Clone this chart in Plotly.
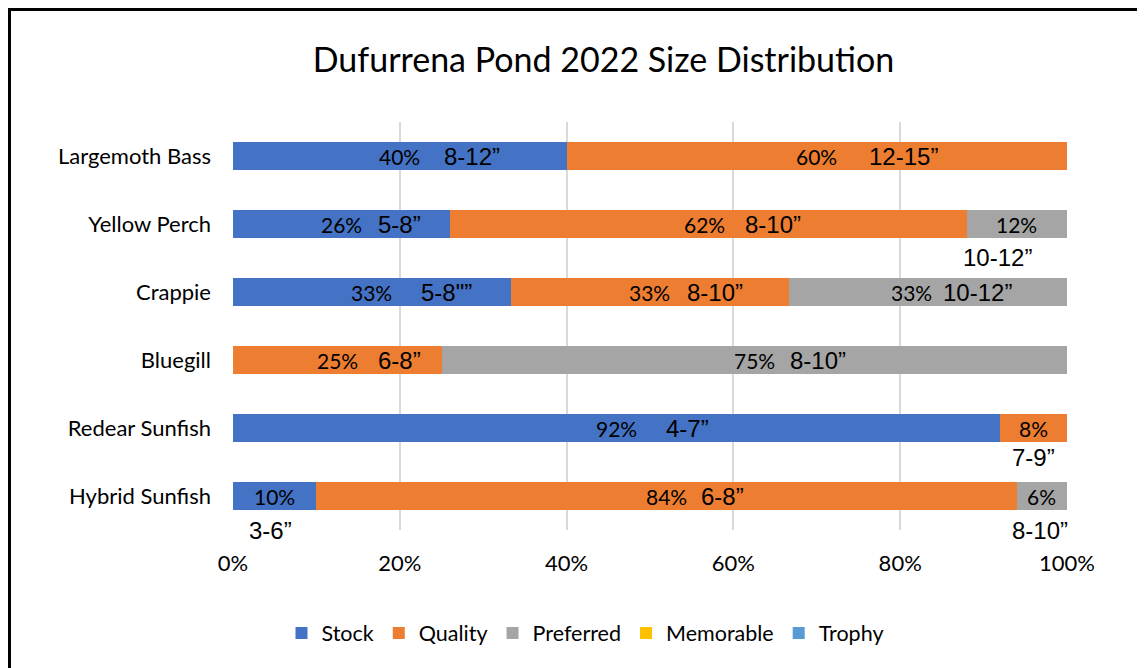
import plotly.graph_objects as go

categories = ["Largemoth Bass", "Yellow Perch", "Crappie", "Bluegill", "Redear Sunfish", "Hybrid Sunfish"]
series = ["Stock", "Quality", "Preferred", "Memorable", "Trophy"]
colors = ["#4472C4", "#ED7D31", "#A5A5A5", "#FFC000", "#5B9BD5"]
stock = [40, 26, 33.33, 0, 92, 10]
quality = [60, 62, 33.33, 25, 8, 84]
preferred = [0, 12, 33.34, 75, 0, 6]
memorable = [0, 0, 0, 0, 0, 0]
trophy = [0, 0, 0, 0, 0, 0]
values = [stock, quality, preferred, memorable, trophy]

# size-range labels: (category, text, x position in %, vertical shift below bar in px)
size_labels = [
    ("Largemoth Bass", "8-12\u201d", 28.7, 0),
    ("Largemoth Bass", "12-15\u201d", 80.4, 0),
    ("Yellow Perch", "5-8\u201d", 20.0, 0),
    ("Yellow Perch", "8-10\u201d", 64.7, 0),
    ("Yellow Perch", "10-12\u201d", 91.7, 33),
    ("Crappie", "5-8\"\u201d", 25.6, 0),
    ("Crappie", "8-10\u201d", 57.8, 0),
    ("Crappie", "10-12\u201d", 89.3, 0),
    ("Bluegill", "6-8\u201d", 20.0, 0),
    ("Bluegill", "8-10\u201d", 70.1, 0),
    ("Redear Sunfish", "4-7\u201d", 54.5, 0),
    ("Redear Sunfish", "7-9\u201d", 96.0, 29),
    ("Hybrid Sunfish", "3-6\u201d", 4.5, 34),
    ("Hybrid Sunfish", "6-8\u201d", 58.7, 0),
    ("Hybrid Sunfish", "8-10\u201d", 96.8, 34),
]
# horizontal nudge (px) of a percent label away from its bar centre
pct_nudge = {("Crappie", "Preferred"): -16, ("Yellow Perch", "Quality"): -4}
xticks = [0, 20, 40, 60, 80, 100]
xticklabels = ["0%", "20%", "40%", "60%", "80%", "100%"]

OFF = 8  # page body margin
W, H = 1137, 660
ML, MT = 225, 114
PW, PH = 834, 408
MR, MB = W - ML - PW, H - MT - PH

def px_x(p):
    return (p - OFF - ML) / PW

def px_y(p):
    return (MT + PH - (p - OFF)) / PH

fig = go.Figure()
left = [0.0] * len(categories)
for name, vals, col in zip(series, values, colors):
    fig.add_trace(go.Bar(
        y=categories, x=vals, name=name, orientation="h",
        marker=dict(color=col, line=dict(width=0)), hoverinfo="skip",
    ))
    for i, (cat, v) in enumerate(zip(categories, vals)):
        if v > 0:
            fig.add_annotation(x=left[i] + v / 2, y=cat, xref="x", yref="y",
                               text=f"{round(v)}%", showarrow=False,
                               xshift=pct_nudge.get((cat, name), 0),
                               font=dict(family="Lato", size=21, color="#000000"))
        left[i] += v

for cat, txt, xp, dy in size_labels:
    fig.add_annotation(x=xp, y=cat, xref="x", yref="y", text=txt, showarrow=False,
                       yshift=-dy,
                       font=dict(family="Liberation Sans, Arial", size=24, color="#000000"))

fig.add_shape(type="rect", xref="paper", yref="paper",
              x0=px_x(9.5), x1=px_x(1250), y0=px_y(760), y1=px_y(9.5),
              line=dict(color="#000000", width=3), fillcolor="rgba(0,0,0,0)")

fig.update_layout(
    width=W, height=H,
    margin=dict(l=ML, r=MR, t=MT, b=MB),
    barmode="stack", bargap=0.6,
    paper_bgcolor="#FFFFFF", plot_bgcolor="#FFFFFF",
    title=dict(text="Dufurrena Pond 2022 Size Distribution", x=(603.5 - OFF) / W, xanchor="center",
               y=1 - (60 - OFF) / H, yanchor="middle", xref="container", yref="container",
               font=dict(family="Lato", size=34, color="#000000")),
    legend=dict(orientation="h", x=px_x(585), xanchor="center", y=px_y(633), yanchor="middle",
                font=dict(family="Lato", size=21.5, color="#000000"), traceorder="normal",
                itemwidth=30, tracegroupgap=0),
    xaxis=dict(range=[0, 100], tickvals=xticks, ticktext=xticklabels, showgrid=True,
               gridcolor="#D9D9D9", gridwidth=2, zeroline=False, showline=False,
               tickfont=dict(family="Lato", size=22, color="#000000"), ticklabelstandoff=18),
    yaxis=dict(categoryorder="array", categoryarray=categories, autorange="reversed",
               showgrid=False, zeroline=False, showline=False,
               tickfont=dict(family="Lato", size=22, color="#000000"), ticklabelstandoff=21),
    showlegend=True,
)

fig.write_html("out.html")
